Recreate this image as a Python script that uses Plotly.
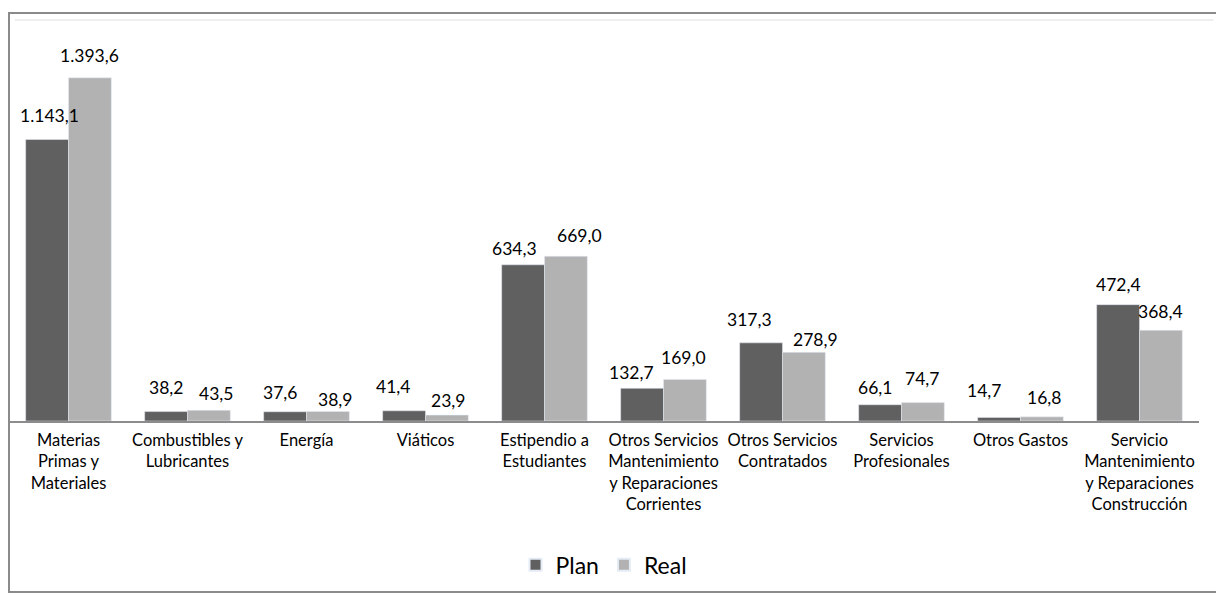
import plotly.graph_objects as go

categories = [
    "Materias<br>Primas y<br>Materiales",
    "Combustibles y<br>Lubricantes",
    "Energía",
    "Viáticos",
    "Estipendio a<br>Estudiantes",
    "Otros Servicios<br>Mantenimiento<br>y Reparaciones<br>Corrientes",
    "Otros Servicios<br>Contratados",
    "Servicios<br>Profesionales",
    "Otros Gastos",
    "Servicio<br>Mantenimiento<br>y Reparaciones<br>Construcción",
]
plan = [1143.1, 38.2, 37.6, 41.4, 634.3, 132.7, 317.3, 66.1, 14.7, 472.4]
real = [1393.6, 43.5, 38.9, 23.9, 669.0, 169.0, 278.9, 74.7, 16.8, 368.4]

# data-label nudges (pixels) relative to the bar centre / top, as placed in the original
plan_label_dx = [2, 0, -5, -11, -9, -11, -12, -5, -15, 0]
plan_label_dy = [24, 24, 19, 24, 16, 16, 23, 17, 27, 20]
real_label_dx = [0, 7, 7, 1, 14, -1, 12, -1, 2, 0]
real_label_dy = [22, 17, 12, 15, 21, 22, 13, 24, 19, 19]

FONT = "Lato, 'Open Sans', sans-serif"
BARGAP = 0.28
PLOT_W = 1190


def fmt(v):
    s = f"{v:,.1f}"
    return s.replace(",", "X").replace(".", ",").replace("X", ".")


fig = go.Figure()
fig.add_trace(go.Bar(name="Plan", x=categories, y=plan, marker_color="#606060"))
fig.add_trace(go.Bar(name="Real", x=categories, y=real, marker_color="#b2b2b2"))

shift = (1 - BARGAP) / 4 * PLOT_W / len(categories)
annotations = []
for series, base, dxs, dys in ((plan, -shift, plan_label_dx, plan_label_dy),
                               (real, shift, real_label_dx, real_label_dy)):
    for c, v, dx, dy in zip(categories, series, dxs, dys):
        annotations.append(dict(x=c, y=v, xref="x", yref="y", text=fmt(v), showarrow=False,
                                xshift=base + dx, yshift=dy, yanchor="middle",
                                font=dict(size=17.5, color="black", family=FONT)))

fig.update_layout(
    width=1224, height=595,
    margin=dict(l=1, r=33, t=19, b=182),
    paper_bgcolor="white", plot_bgcolor="white",
    separators=",.",
    barmode="group", bargap=BARGAP, bargroupgap=0,
    font=dict(family=FONT, size=16.5, color="black"),
    showlegend=True,
    legend=dict(orientation="h", x=0.5, xanchor="center", y=-0.365, yanchor="middle",
                font=dict(size=23, color="black"), itemsizing="constant"),
    xaxis=dict(showline=True, linecolor="#8c8c8c", linewidth=2, ticks="",
               tickfont=dict(size=16.5, color="black"), tickangle=0, showgrid=False,
               ticklabelstandoff=3),
    yaxis=dict(range=[0, 1600], visible=False, showgrid=False, zeroline=False),
    annotations=annotations,
    shapes=[
        dict(type="rect", xref="paper", yref="paper", x0=0.0, x1=1.0168, y0=-0.434, y1=1.0355,
             line=dict(color="#8a8a8a", width=2), fillcolor="rgba(0,0,0,0)", layer="below"),
        dict(type="line", xref="paper", yref="paper", x0=0.005, x1=1.012, y0=1.018, y1=1.018,
             line=dict(color="#eeeeee", width=2)),
    ],
)

fig.write_html("out.html")
